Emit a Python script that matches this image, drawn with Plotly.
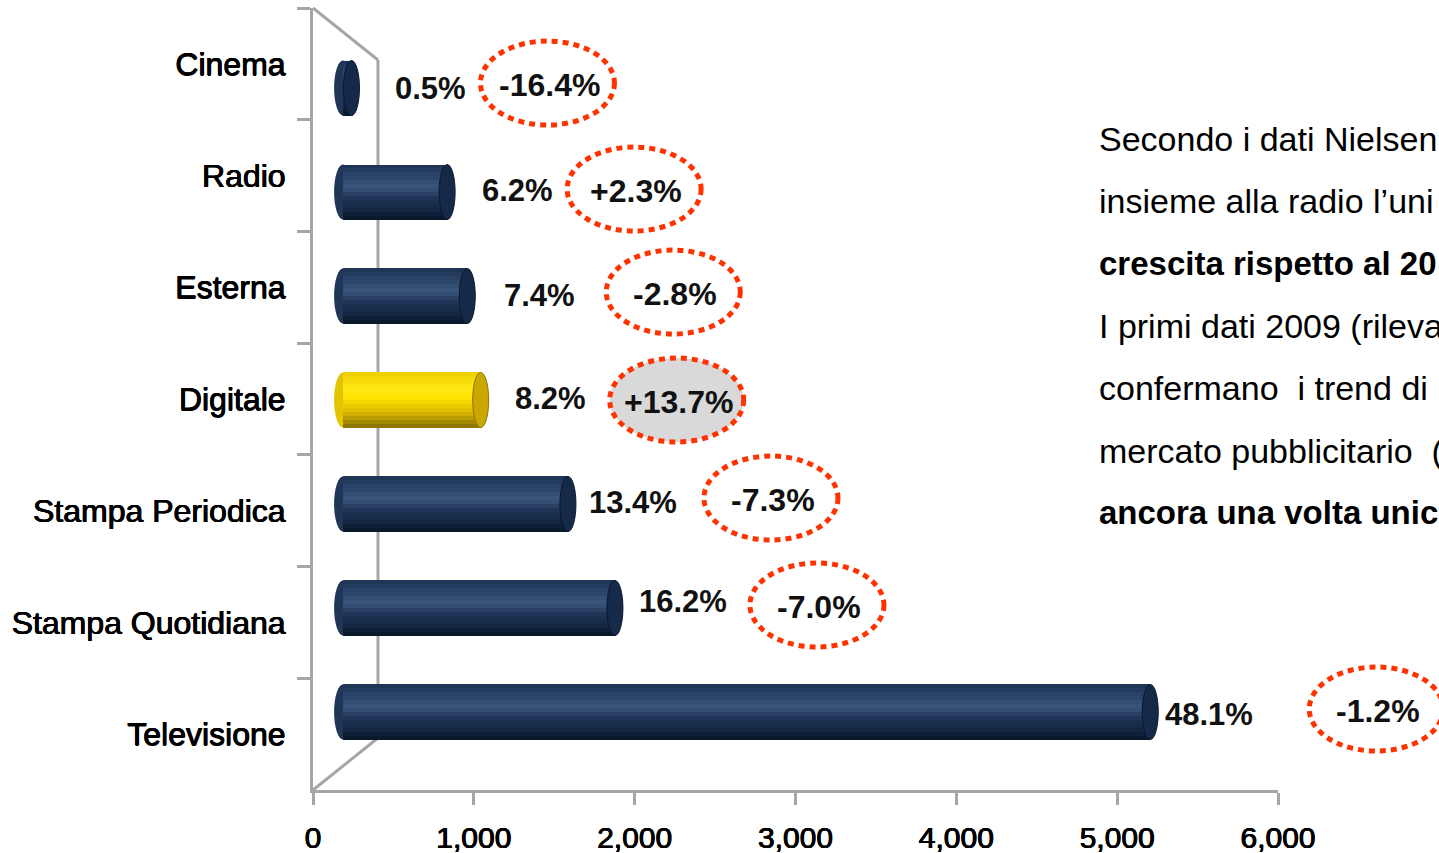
import plotly.graph_objects as go

# --- data -------------------------------------------------------------------
CATEGORIES = ["Cinema", "Radio", "Esterna", "Digitale",
              "Stampa Periodica", "Stampa Quotidiana", "Televisione"]
SHARE_PCT = [0.5, 6.2, 7.4, 8.2, 13.4, 16.2, 48.1]          # quota di mercato
GROWTH_LABELS = ["-16.4%", "+2.3%", "-2.8%", "+13.7%", "-7.3%", "-7.0%", "-1.2%"]
HIGHLIGHT = "Digitale"
MARKET_TOTAL = 10434                                         # milioni di euro
X_TICKS = [0, 1000, 2000, 3000, 4000, 5000, 6000]

TEXT_LINES = [
    ("Secondo i dati Nielsen", False),
    ("insieme alla radio l\u2019uni", False),
    ("crescita rispetto al 20", True),
    ("I primi dati 2009 (rileva", False),
    ("confermano  i trend di", False),
    ("mercato pubblicitario  (", False),
    ("ancora una volta unic", True),
]

spend = [p / 100 * MARKET_TOTAL for p in SHARE_PCT]

# --- styling ----------------------------------------------------------------
FONT = "Liberation Sans, Arial, sans-serif"
GRID = "#a6a6a6"
BADGE = "#ff3300"
AXIS_SHADOW = "0.45px 0 0 #000, -0.45px 0 0 #000, 0 0.45px 0 #000"
FLOOR_OFFSET = 187          # bars sit in front of the back wall (3D floor depth)
WALL_DEPTH = 404            # depth of the 3D side wall in axis units
BAR_THICK = 0.53
N_STRIPS = 14
Y_TOP, Y_BOTTOM = -0.77, 6.75
X_MAX = X_TICKS[-1]

# pixel offsets for the value labels and growth badges, per bar
LABEL_DX = [42, 33, 35, 32, 19, 22, 13]
LABEL_DY = [0, 2, 1, 2, 2, 7, -2]
BADGE_DX = [196, 187, 206, 196, 203, 202, 226]
BADGE_DY = [5, 3, 4, 0, 6, 3, 3]

NAVY_STOPS = [(0.0, (28, 50, 82)), (0.28, (47, 74, 110)), (0.42, (58, 86, 122)),
              (0.6, (31, 54, 88)), (0.85, (16, 35, 62)), (1.0, (9, 22, 42))]
GOLD_STOPS = [(0.0, (236, 206, 0)), (0.3, (255, 232, 20)), (0.45, (255, 228, 0)),
              (0.7, (222, 190, 0)), (1.0, (130, 108, 0))]


def blend(stops, t):
    for (t0, c0), (t1, c1) in zip(stops, stops[1:]):
        if t <= t1:
            f = (t - t0) / (t1 - t0)
            return "rgb(%d,%d,%d)" % tuple(round(a + (b - a) * f) for a, b in zip(c0, c1))
    return "rgb(%d,%d,%d)" % stops[-1][1]


def y_paper(idx):
    return (Y_BOTTOM - idx) / (Y_BOTTOM - Y_TOP)


fig = go.Figure()
ypos = list(range(len(CATEGORIES)))
strip = BAR_THICK / N_STRIPS

# cylinder bodies: horizontal strips shaded top-to-bottom
for k in range(N_STRIPS):
    t = (k + 0.5) / N_STRIPS
    colors = [blend(GOLD_STOPS if c == HIGHLIGHT else NAVY_STOPS, t) for c in CATEGORIES]
    w = strip if k == N_STRIPS - 1 else strip * 1.6
    fig.add_trace(go.Bar(
        x=spend, y=ypos, base=FLOOR_OFFSET, orientation="h",
        width=w, offset=-BAR_THICK / 2 + k * strip,
        marker=dict(color=colors, line=dict(width=0)),
        showlegend=False, hoverinfo="skip",
    ))

# invisible trace that carries the category axis of the front wall
fig.add_trace(go.Scatter(x=[0] * len(CATEGORIES), y=CATEGORIES, yaxis="y2",
                         mode="markers", marker=dict(opacity=0),
                         showlegend=False, hoverinfo="skip"))

shapes = []
# 3D side wall
shapes += [
    dict(type="line", xref="x", yref="paper", x0=0, y0=1, x1=WALL_DEPTH, y1=0.9335,
         line=dict(color=GRID, width=3), layer="below"),
    dict(type="line", xref="x", yref="paper", x0=0, y0=0, x1=WALL_DEPTH, y1=0.0665,
         line=dict(color=GRID, width=3), layer="below"),
    dict(type="line", xref="x", yref="paper", x0=WALL_DEPTH, y0=0.0665, x1=WALL_DEPTH, y1=0.9335,
         line=dict(color=GRID, width=3), layer="below"),
]

half_h = BAR_THICK * 104 / 2
for i, (cat, v) in enumerate(zip(CATEGORIES, spend)):
    gold = cat == HIGHLIGHT
    # rounded near end
    shapes.append(dict(type="circle", xref="x", yref="y", xsizemode="pixel", ysizemode="pixel",
                       xanchor=FLOOR_OFFSET, yanchor=i, x0=-9, x1=9, y0=-half_h, y1=half_h,
                       fillcolor="#e2c400" if gold else "#1f3656",
                       line=dict(width=0), layer="below"))
    # far end face
    shapes.append(dict(type="circle", xref="x", yref="y", xsizemode="pixel", ysizemode="pixel",
                       xanchor=FLOOR_OFFSET + v, yanchor=i, x0=-8, x1=8, y0=-half_h, y1=half_h,
                       fillcolor="#c9a600" if gold else "#152a49",
                       line=dict(color="#8c7400" if gold else "#0a1830", width=1), layer="above"))
    # growth badge
    shapes.append(dict(type="circle", xref="paper", yref="paper", xsizemode="pixel", ysizemode="pixel",
                       xanchor=(FLOOR_OFFSET + v) / X_MAX, yanchor=y_paper(i),
                       x0=BADGE_DX[i] - 67, x1=BADGE_DX[i] + 67,
                       y0=BADGE_DY[i] - 42, y1=BADGE_DY[i] + 42,
                       fillcolor="#d9d9d9" if gold else "rgba(0,0,0,0)",
                       line=dict(color=BADGE, width=5, dash="6px,5px"), layer="above"))

annotations = []
for i, (p, g, v) in enumerate(zip(SHARE_PCT, GROWTH_LABELS, spend)):
    annotations.append(dict(x=FLOOR_OFFSET + v, y=i, xref="x", yref="y",
                            text=f"{p:.1f}%", showarrow=False, xanchor="left", yanchor="middle",
                            xshift=LABEL_DX[i], yshift=LABEL_DY[i],
                            font=dict(family=FONT, size=31, color="#111111", weight="bold")))
    annotations.append(dict(x=FLOOR_OFFSET + v, y=i, xref="x", yref="y",
                            text=g, showarrow=False, xanchor="center", yanchor="middle",
                            xshift=BADGE_DX[i] + 2, yshift=BADGE_DY[i] - 2,
                            font=dict(family=FONT, size=32, color="#111111", weight="bold")))

for j, (line, bold) in enumerate(TEXT_LINES):
    annotations.append(dict(x=(1097 - 313) / 965, y=0.8325 - j * 0.0797, xref="paper", yref="paper",
                            text=line, showarrow=False, xanchor="left", yanchor="middle",
                            font=dict(family=FONT, size=34 if not bold else 33, color="#000000",
                                      weight="bold" if bold else "normal")))

fig.update_layout(
    width=1439, height=853,
    margin=dict(l=313, r=161, t=8, b=63),
    paper_bgcolor="white", plot_bgcolor="white",
    barmode="overlay", bargap=0,
    shapes=shapes, annotations=annotations,
    xaxis=dict(range=[0, X_MAX], tickvals=X_TICKS, tickformat=",", showgrid=False, zeroline=False,
               showline=True, linecolor=GRID, linewidth=3, ticks="outside", ticklen=12,
               tickwidth=3, tickcolor=GRID, ticklabelstandoff=7, automargin=False,
               tickfont=dict(family=FONT, size=30, color="#000000", shadow=AXIS_SHADOW)),
    yaxis=dict(range=[Y_BOTTOM, Y_TOP], visible=False, showgrid=False, zeroline=False,
               automargin=False),
    yaxis2=dict(type="category", categoryorder="array", categoryarray=CATEGORIES,
                range=[6.5, -0.5], overlaying="y", side="left", anchor="x",
                showgrid=False, zeroline=False, showline=True, linecolor=GRID, linewidth=3,
                ticks="outside", ticklen=13, tickwidth=3, tickcolor=GRID, tickson="boundaries",
                ticklabelstandoff=18, automargin=False,
                tickfont=dict(family=FONT, size=32, color="#000000", shadow=AXIS_SHADOW)),
)

fig.write_html("out.html")
